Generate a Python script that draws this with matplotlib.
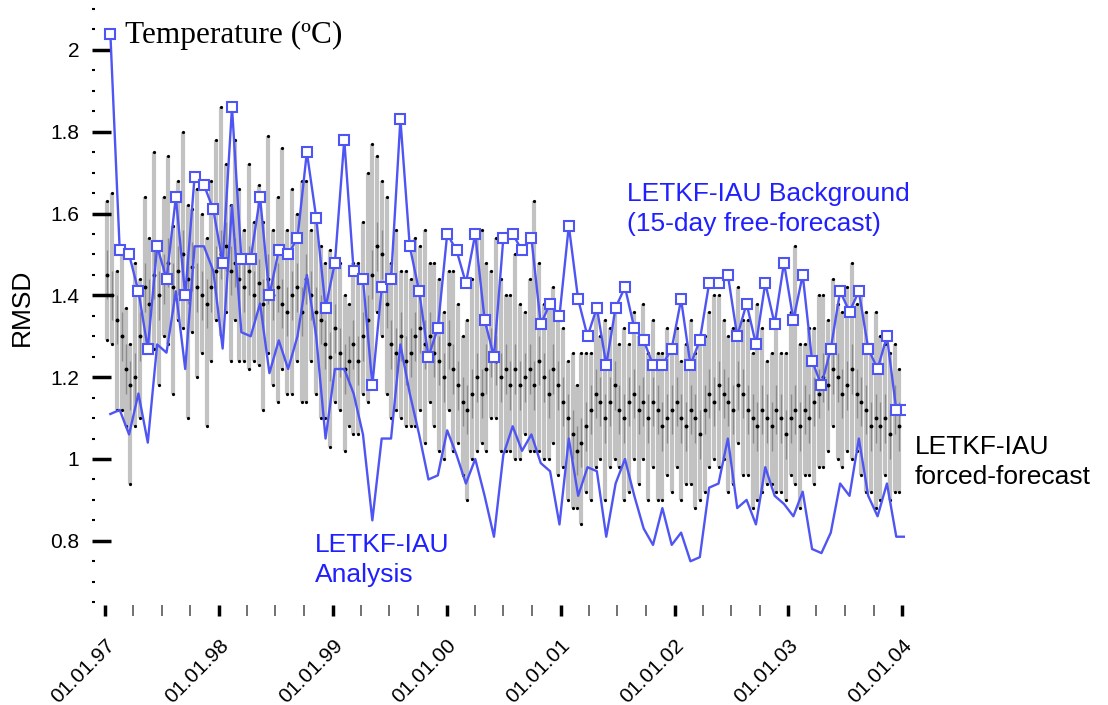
import numpy as np
import matplotlib
matplotlib.use("Agg")
import matplotlib.pyplot as plt
import matplotlib.dates as mdates
from matplotlib.ticker import MultipleLocator, FixedLocator

plt.rcParams['font.family'] = ['Liberation Sans', 'DejaVu Sans']

# LETKF-IAU background (15-day free forecast), one value every 30 days
background = [2.04, 1.51, 1.50, 1.41, 1.27, 1.52, 1.44, 1.64, 1.40, 1.69, 1.67, 1.61, 1.48, 1.86,
              1.49, 1.49, 1.64, 1.40, 1.51, 1.50, 1.54, 1.75, 1.59, 1.37, 1.48, 1.78, 1.46, 1.44,
              1.18, 1.42, 1.44, 1.83, 1.52, 1.41, 1.25, 1.32, 1.55, 1.51, 1.43, 1.55, 1.34, 1.25,
              1.54, 1.55, 1.51, 1.54, 1.33, 1.38, 1.35, 1.57, 1.39, 1.30, 1.37, 1.23, 1.37, 1.42,
              1.32, 1.29, 1.23, 1.23, 1.27, 1.39, 1.23, 1.29, 1.43, 1.43, 1.45, 1.30, 1.38, 1.28,
              1.43, 1.33, 1.48, 1.34, 1.45, 1.24, 1.18, 1.27, 1.41, 1.36, 1.41, 1.27, 1.22, 1.30,
              1.12, 1.12]

# LETKF-IAU analysis, same dates
analysis = [1.11, 1.12, 1.06, 1.16, 1.04, 1.28, 1.26, 1.41, 1.22, 1.52, 1.52, 1.46, 1.27, 1.62,
            1.31, 1.30, 1.38, 1.21, 1.29, 1.22, 1.30, 1.45, 1.30, 1.05, 1.22, 1.22, 1.16, 1.06,
            0.85, 1.05, 1.05, 1.28, 1.16, 1.06, 0.95, 0.96, 1.07, 1.01, 0.94, 1.00, 0.91, 0.81,
            1.01, 1.08, 1.02, 1.06, 0.99, 0.97, 0.84, 1.05, 0.91, 0.98, 0.97, 0.81, 0.94, 1.00,
            0.91, 0.83, 0.79, 0.88, 0.79, 0.82, 0.75, 0.76, 0.93, 0.94, 1.05, 0.88, 0.90, 0.84,
            0.98, 0.91, 0.89, 0.86, 0.92, 0.78, 0.77, 0.82, 0.94, 0.91, 1.05, 0.91, 0.86, 0.94,
            0.81, 0.81]

# forced-forecast spread, two samples per month (8th and 23rd), 1997-2003
forced_mid = [1.45, 1.40, 1.34, 1.30, 1.22, 1.18, 1.20, 1.30, 1.42, 1.38, 1.45, 1.40,
              1.44, 1.48, 1.42, 1.46, 1.50, 1.44, 1.47, 1.42, 1.40, 1.38, 1.42, 1.46,
              1.50, 1.52, 1.46, 1.48, 1.44, 1.42, 1.46, 1.40, 1.43, 1.38, 1.44, 1.40,
              1.42, 1.38, 1.36, 1.40, 1.42, 1.36, 1.44, 1.40, 1.36, 1.34, 1.28, 1.25,
              1.32, 1.26, 1.22, 1.24, 1.28, 1.24, 1.30, 1.34, 1.45, 1.52, 1.50, 1.38,
              1.28, 1.26, 1.30, 1.24, 1.26, 1.30, 1.32, 1.28, 1.30, 1.26, 1.24, 1.20,
              1.28, 1.22, 1.18, 1.14, 1.12, 1.16, 1.20, 1.16, 1.22, 1.26, 1.24, 1.20,
              1.22, 1.18, 1.22, 1.18, 1.20, 1.22, 1.18, 1.24, 1.20, 1.16, 1.22, 1.18,
              1.14, 1.10, 1.06, 1.02, 1.04, 1.08, 1.12, 1.16, 1.14, 1.10, 1.14, 1.18,
              1.12, 1.10, 1.14, 1.16, 1.12, 1.14, 1.10, 1.14, 1.12, 1.08, 1.10, 1.12,
              1.14, 1.10, 1.08, 1.12, 1.10, 1.06, 1.12, 1.16, 1.14, 1.18, 1.16, 1.14,
              1.12, 1.18, 1.16, 1.12, 1.10, 1.08, 1.12, 1.10, 1.08, 1.12, 1.10, 1.06,
              1.10, 1.12, 1.08, 1.12, 1.10, 1.14, 1.16, 1.20, 1.18, 1.22, 1.20, 1.16,
              1.18, 1.22, 1.16, 1.14, 1.12, 1.08, 1.10, 1.08, 1.10, 1.06, 1.12, 1.08]
forced_up = [0.18, 0.25, 0.12, 0.20, 0.15, 0.10, 0.28, 0.14, 0.22, 0.16, 0.30, 0.12,
             0.20, 0.26, 0.15, 0.22, 0.30, 0.18, 0.14, 0.24, 0.20, 0.16, 0.26, 0.32,
             0.36, 0.20, 0.16, 0.30, 0.22, 0.14, 0.26, 0.18, 0.24, 0.20, 0.35, 0.16,
             0.22, 0.38, 0.20, 0.26, 0.18, 0.32, 0.24, 0.16, 0.22, 0.18, 0.20, 0.26,
             0.16, 0.22, 0.18, 0.14, 0.20, 0.24, 0.28, 0.36, 0.32, 0.22, 0.18, 0.26,
             0.20, 0.30, 0.16, 0.22, 0.18, 0.24, 0.20, 0.28, 0.18, 0.22, 0.20, 0.16,
             0.18, 0.24, 0.20, 0.16, 0.22, 0.28, 0.34, 0.40, 0.26, 0.20, 0.30, 0.24,
             0.18, 0.22, 0.28, 0.20, 0.16, 0.22, 0.45, 0.24, 0.18, 0.22, 0.20, 0.16,
             0.18, 0.14, 0.20, 0.16, 0.22, 0.18, 0.14, 0.20, 0.16, 0.24, 0.18, 0.20,
             0.16, 0.22, 0.14, 0.20, 0.18, 0.24, 0.16, 0.20, 0.14, 0.18, 0.22, 0.16,
             0.18, 0.14, 0.20, 0.22, 0.16, 0.24, 0.18, 0.20, 0.26, 0.22, 0.18, 0.16,
             0.20, 0.24, 0.18, 0.22, 0.16, 0.30, 0.20, 0.14, 0.18, 0.22, 0.16, 0.20,
             0.26, 0.40, 0.20, 0.16, 0.22, 0.18, 0.24, 0.20, 0.16, 0.22, 0.18, 0.20,
             0.24, 0.26, 0.22, 0.28, 0.24, 0.20, 0.26, 0.22, 0.18, 0.20, 0.16, 0.14]
forced_down = [0.16, 0.12, 0.22, 0.18, 0.14, 0.24, 0.12, 0.20, 0.16, 0.10, 0.18, 0.22,
               0.14, 0.20, 0.26, 0.12, 0.18, 0.34, 0.16, 0.22, 0.14, 0.30, 0.18, 0.12,
               0.20, 0.16, 0.22, 0.14, 0.20, 0.18, 0.24, 0.16, 0.20, 0.26, 0.18, 0.22,
               0.28, 0.16, 0.20, 0.24, 0.18, 0.22, 0.30, 0.16, 0.20, 0.24, 0.18, 0.22,
               0.18, 0.14, 0.20, 0.16, 0.22, 0.18, 0.14, 0.20, 0.24, 0.16, 0.20, 0.22,
               0.18, 0.14, 0.20, 0.16, 0.18, 0.22, 0.20, 0.24, 0.16, 0.18, 0.22, 0.20,
               0.16, 0.20, 0.14, 0.18, 0.22, 0.16, 0.18, 0.12, 0.20, 0.16, 0.14, 0.18,
               0.20, 0.16, 0.22, 0.18, 0.14, 0.20, 0.16, 0.22, 0.20, 0.16, 0.18, 0.22,
               0.16, 0.20, 0.18, 0.14, 0.20, 0.16, 0.22, 0.18, 0.14, 0.20, 0.16, 0.18,
               0.14, 0.20, 0.22, 0.16, 0.18, 0.14, 0.20, 0.16, 0.22, 0.18, 0.14, 0.20,
               0.16, 0.20, 0.14, 0.18, 0.22, 0.16, 0.20, 0.18, 0.14, 0.20, 0.16, 0.22,
               0.18, 0.14, 0.20, 0.16, 0.22, 0.18, 0.20, 0.16, 0.14, 0.20, 0.18, 0.16,
               0.14, 0.18, 0.20, 0.16, 0.14, 0.20, 0.18, 0.22, 0.16, 0.14, 0.20, 0.18,
               0.16, 0.22, 0.14, 0.18, 0.20, 0.16, 0.22, 0.18, 0.14, 0.16, 0.20, 0.16]

years = ['1997', '1998', '1999', '2000', '2001', '2002', '2003', '2004']
year_labels = ['01.01.97', '01.01.98', '01.01.99', '01.01.00', '01.01.01', '01.01.02', '01.01.03', '01.01.04']
ytick_vals = [0.8, 1.0, 1.2, 1.4, 1.6, 1.8, 2.0]
ytick_labels = ['0.8', '1', '1.2', '1.4', '1.6', '1.8', '2']

blue_line = '#4f55f2'
blue_text = '#1f1fff'

bg_dates = np.datetime64('1997-01-18') + np.arange(len(background)) * np.timedelta64(30, 'D')
forced_dates = np.array([np.datetime64(f'{y}-{m:02d}-{d:02d}')
                         for y in range(1997, 2004) for m in range(1, 13) for d in (8, 23)])
mid = np.array(forced_mid)
hi = mid + np.array(forced_up)
lo = mid - np.array(forced_down)

fig = plt.figure(figsize=(11.08, 7.05), dpi=100)
ax = fig.add_axes([0.083, 0.1418, 0.7338, 0.8454])

# gray spread bars with black dots
ax.vlines(forced_dates, lo, hi, color='0.76', linewidth=3.0, zorder=1)
ax.vlines(forced_dates, mid - 0.06, mid + 0.06, color='0.55', linewidth=1.0, zorder=1)
ax.plot(forced_dates, mid, 'o', color='black', markersize=1.8, zorder=2)
ax.plot(forced_dates, hi, 'o', color='black', markersize=1.3, zorder=2)
ax.plot(forced_dates, lo, 'o', color='black', markersize=1.3, zorder=2)

ax.plot(bg_dates, analysis, color=blue_line, linewidth=1.7, zorder=3)
ax.plot(bg_dates, background, color=blue_line, linewidth=1.7, marker='s', markersize=6.5,
        markerfacecolor='white', markeredgecolor=blue_line, markeredgewidth=1.5, zorder=4)

ax.set_xlim(np.datetime64('1996-11-20'), np.datetime64('2004-01-10'))
ax.set_ylim(0.643, 2.1)

for s in ax.spines.values():
    s.set_visible(False)

ax.xaxis.set_major_locator(FixedLocator(mdates.date2num([np.datetime64(y + '-01-01') for y in years])))
ax.xaxis.set_minor_locator(mdates.MonthLocator(bymonth=[4, 7, 10]))
ax.set_xticklabels(year_labels, rotation=45, ha='right', rotation_mode='anchor', fontsize=15)
ax.tick_params(axis='x', which='major', direction='out', length=8, width=2.5, pad=14)
ax.tick_params(axis='x', which='minor', direction='out', length=8, width=1.2, color='0.35')

ax.set_yticks(ytick_vals)
ax.set_yticklabels(ytick_labels, fontsize=15)
ax.yaxis.set_minor_locator(MultipleLocator(0.05))
ax.tick_params(axis='y', which='major', direction='in', length=14, width=2.5, pad=9)
ax.tick_params(axis='y', which='minor', direction='in', length=2, width=1.5)
ax.set_ylabel('RMSD', fontsize=19, labelpad=12)

ax.text(0.041, 0.955, 'Temperature (ºC)', transform=ax.transAxes, fontsize=22.5,
        family=['Liberation Serif', 'DejaVu Serif'], va='center')
fig.text(627 / 1108, 1 - 182 / 705, 'LETKF-IAU Background\n(15-day free-forecast)',
         color=blue_text, fontsize=19, va='top', ha='left', linespacing=1.3)
fig.text(315 / 1108, 1 - 533 / 705, 'LETKF-IAU\nAnalysis', color=blue_text, fontsize=19,
         va='top', ha='left', linespacing=1.3)
fig.text(915 / 1108, 1 - 435 / 705, 'LETKF-IAU\nforced-forecast', color='black', fontsize=19,
         va='top', ha='left', linespacing=1.3)

fig.savefig('out.png', dpi=100)
